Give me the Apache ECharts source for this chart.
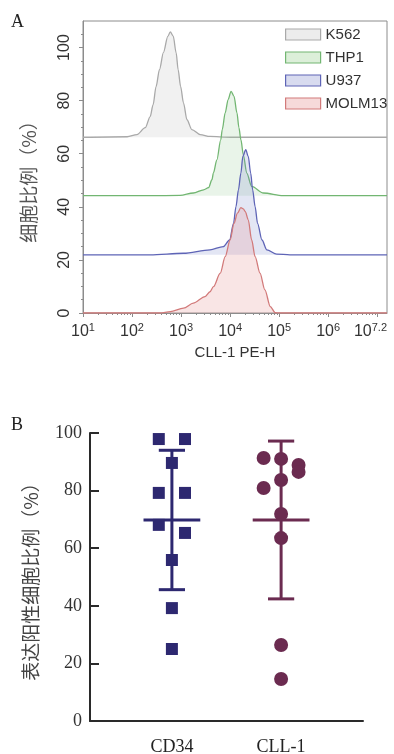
<!DOCTYPE html>
<html>
<head>
<meta charset="utf-8">
<script src="https://cdn.jsdelivr.net/npm/echarts@6/dist/echarts.min.js"></script>
<style>
  html, body { margin: 0; padding: 0; background: #fff; }
  #chart { width: 394px; height: 754px; }
</style>
</head>
<body>
<div id="chart"></div>
<script>
// ---- panel A: CLL-1 histograms, x = log10(PE-H), y = % of cells (offset per line) ----
const cellLines = ['K562', 'THP1', 'U937', 'MOLM13'];
const baselines = [66.2, 44.2, 21.9, 0];
const k562 = [[1.0, 66.2], [1.9, 66.4], [2.1, 67.2], [2.27, 69.8], [2.37, 74.0], [2.43, 78.5], [2.49, 85.3],
  [2.56, 91.7], [2.64, 98.1], [2.73, 104.2], [2.78, 105.9], [2.84, 104.3], [2.9, 98.0], [2.94, 91.7],
  [2.99, 85.4], [3.05, 79.1], [3.12, 72.8], [3.22, 69.1], [3.39, 67.2], [3.59, 66.5], [4.0, 66.2], [7.2, 66.2]];
const thp1 = [[1.0, 44.2], [2.37, 44.2], [2.98, 44.3], [3.25, 45.2], [3.46, 46.4], [3.56, 47.2], [3.63, 50.2],
  [3.66, 52.8], [3.73, 57.7], [3.81, 65.3], [3.84, 69.1], [3.9, 75.4], [3.96, 80.4], [4.02, 83.5], [4.08, 81.6],
  [4.14, 75.4], [4.18, 69.8], [4.22, 65.3], [4.27, 59.6], [4.34, 52.7], [4.44, 47.7], [4.68, 45.2], [5.08, 44.2], [7.2, 44.2]];
const u937 = [[1.0, 21.9], [2.37, 21.9], [3.05, 22.5], [3.59, 23.8], [3.86, 25.0], [3.99, 27.5], [4.07, 33.8],
  [4.12, 40.1], [4.17, 46.4], [4.22, 52.7], [4.26, 59.0], [4.32, 61.5], [4.37, 59.0], [4.42, 52.7], [4.46, 46.4],
  [4.51, 40.1], [4.56, 33.8], [4.65, 27.5], [4.75, 23.8], [4.95, 22.2], [5.22, 21.9], [7.2, 21.9]];
const molm13 = [[1.0, 0], [2.57, 0], [2.78, 0.5], [3.05, 1.8], [3.25, 3.7], [3.49, 6.2], [3.59, 8.0], [3.66, 9.9],
  [3.8, 15.0], [3.9, 21.2], [4.0, 27.5], [4.08, 33.8], [4.15, 37.6], [4.22, 39.7], [4.27, 39.2], [4.31, 38.2],
  [4.37, 35.1], [4.44, 27.5], [4.51, 21.2], [4.61, 15.0], [4.71, 8.7], [4.82, 2.4], [4.92, 0.1], [5.02, 0], [7.2, 0]];
const histData = [k562, thp1, u937, molm13];
const logLabels = [1, 2, 3, 4, 5, 6, 7.2];
const pctTicksA = [0, 20, 40, 60, 80, 100];

// ---- panel B: % positive cells per sample ----
const groups = ['CD34', 'CLL-1'];
const cd34Pct = [97.9, 97.9, 89.6, 79.2, 79.2, 68.1, 65.3, 55.9, 39.2, 25.0];
const cd34Jitter = [-0.12, 0.12, 0, -0.12, 0.12, -0.12, 0.12, 0, 0, 0];
const cll1Pct = [91.3, 91.0, 88.9, 86.5, 83.7, 80.9, 71.9, 63.5, 26.4, 14.6];
const cll1Jitter = [-0.16, 0, 0.16, 0.16, 0, -0.16, 0, 0, 0, 0];
const groupMean = [69.8, 69.8];
const groupSD = [24.2, 27.4];

const lineColors = ['#a9a9a9', '#72b672', '#5e64b6', '#d27a7a'];
const fillColors = ['rgba(205,205,205,0.4)', 'rgba(150,205,150,0.3)', 'rgba(125,135,205,0.3)', 'rgba(232,150,150,0.35)'];
const legendFill = ['#ececec', '#dcefd9', '#d8dbef', '#f6dada'];
const groupColors = ['#2d2870', '#6b2b50'];

const sans = "'Liberation Sans', Arial, sans-serif";
const serif = "'Liberation Serif', 'Times New Roman', serif";
const cjk = "'Noto Sans CJK SC', sans-serif";

// log minor ticks 2..9 per decade
const minorLog = [];
for (let d = 1; d < 7; d++) {
  for (let k = 2; k <= 9; k++) minorLog.push(d + Math.log10(k));
}
const minorPct = [];
for (let v = 5; v < 110; v += 5) if (v % 20 !== 0) minorPct.push(v);

const chart = echarts.init(document.getElementById('chart'));

const histSeries = cellLines.map((name, i) => ({
  name: name,
  type: 'line',
  xAxisIndex: 0,
  yAxisIndex: 0,
  data: histData[i],
  showSymbol: false,
  smooth: 0.3,
  smoothMonotone: 'x',
  lineStyle: { color: lineColors[i], width: 1.3 },
  itemStyle: { color: lineColors[i] },
  areaStyle: { color: fillColors[i], origin: baselines[i] },
  z: 2 + i
}));

const option = {
  animation: false,
  grid: [
    { left: 83, right: 7, top: 21, bottom: 441, show: true, borderColor: '#8c8c8c', borderWidth: 1, outerBoundsMode: 'none' },
    { left: 90, right: 31, top: 433, bottom: 33, outerBoundsMode: 'none' }
  ],
  legend: {
    orient: 'vertical',
    left: 280,
    top: 22,
    itemWidth: 35,
    itemHeight: 11,
    itemGap: 8,
    icon: 'rect',
    textStyle: { fontFamily: sans, fontSize: 15, color: '#333' },
    data: cellLines.map((n, i) => ({
      name: n,
      itemStyle: { color: legendFill[i], borderColor: lineColors[i], borderWidth: 1.2 }
    }))
  },
  graphic: [
    { type: 'text', left: 11, top: 13, style: { text: 'A', font: '18px ' + serif, fill: '#222' } },
    { type: 'text', left: 11, top: 416, style: { text: 'B', font: '18px ' + serif, fill: '#222' } }
  ],
  xAxis: [
    {
      type: 'value', gridIndex: 0, min: 1, max: 7.2,
      name: 'CLL-1 PE-H', nameLocation: 'middle', nameGap: 32,
      nameTextStyle: { fontFamily: sans, fontSize: 15, color: '#333' },
      axisLine: { onZero: false, lineStyle: { color: '#8c8c8c', width: 1 } },
      axisTick: { show: true, length: 4, customValues: [1, 2, 3, 4, 5, 6, 7], lineStyle: { color: '#8c8c8c' } },
      axisLabel: {
        customValues: logLabels,
        margin: 9,
        alignMaxLabel: 'right',
        formatter: v => '{b|10}{s|' + v + '}',
        rich: {
          b: { fontFamily: sans, fontSize: 16, color: '#333' },
          s: { fontFamily: sans, fontSize: 11, color: '#333', padding: [0, 0, 9, 0] }
        }
      },
      splitLine: { show: false }
    },
    {
      type: 'value', gridIndex: 0, min: 1, max: 7.2, position: 'bottom',
      axisLine: { show: false, onZero: false },
      axisTick: { show: true, length: 2, customValues: minorLog, lineStyle: { color: '#8c8c8c' } },
      axisLabel: { show: false },
      splitLine: { show: false }
    },
    {
      type: 'value', gridIndex: 1, min: -0.75, max: 1.75,
      axisLine: { onZero: false, lineStyle: { color: '#2a2a2a', width: 2 } },
      axisTick: { show: false },
      axisLabel: {
        customValues: [0, 1],
        formatter: v => groups[Math.round(v)],
        fontFamily: serif, fontSize: 18, color: '#222', margin: 17
      },
      splitLine: { show: false }
    }
  ],
  yAxis: [
    {
      type: 'value', gridIndex: 0, min: 0, max: 110,
      name: '细胞比例（%）', nameLocation: 'middle', nameGap: 45,
      nameTextStyle: { fontFamily: cjk, fontSize: 19, color: '#555', padding: [0, 20, 0, 0] },
      axisLine: { onZero: false, lineStyle: { color: '#8c8c8c', width: 1 } },
      axisTick: { show: true, length: 4, customValues: pctTicksA, lineStyle: { color: '#8c8c8c' } },
      axisLabel: {
        customValues: pctTicksA, rotate: 90, margin: 10,
        fontFamily: sans, fontSize: 16, color: '#333'
      },
      splitLine: { show: false }
    },
    {
      type: 'value', gridIndex: 0, min: 0, max: 110, position: 'left',
      axisLine: { show: false, onZero: false },
      axisTick: { show: true, length: 2, customValues: minorPct, lineStyle: { color: '#8c8c8c' } },
      axisLabel: { show: false },
      splitLine: { show: false }
    },
    {
      type: 'value', gridIndex: 1, min: 0, max: 100, interval: 20,
      name: '表达阳性细胞比例（%）', nameLocation: 'middle', nameGap: 50,
      nameTextStyle: { fontFamily: cjk, fontSize: 19, color: '#444' },
      axisLine: { onZero: false, lineStyle: { color: '#2a2a2a', width: 2 } },
      axisTick: { show: true, inside: true, length: 9, lineStyle: { color: '#2a2a2a', width: 2 } },
      axisLabel: { fontFamily: serif, fontSize: 18, color: '#333', margin: 8 },
      splitLine: { show: false }
    }
  ],
  series: histSeries.concat([
    {
      type: 'custom',
      xAxisIndex: 2,
      yAxisIndex: 2,
      data: groups.map((g, i) => [i, groupMean[i], groupSD[i]]),
      renderItem: function (params, api) {
        const i = api.value(0), m = api.value(1), s = api.value(2);
        const c = groupColors[i];
        const seg = (x1, y1, x2, y2) => {
          const a = api.coord([x1, y1]);
          const b = api.coord([x2, y2]);
          return { type: 'line', shape: { x1: a[0], y1: a[1], x2: b[0], y2: b[1] }, style: { stroke: c, lineWidth: 3 } };
        };
        return {
          type: 'group',
          children: [
            seg(i, m - s, i, m + s),
            seg(i - 0.12, m + s, i + 0.12, m + s),
            seg(i - 0.12, m - s, i + 0.12, m - s),
            seg(i - 0.26, m, i + 0.26, m)
          ]
        };
      },
      z: 2
    },
    {
      type: 'scatter',
      xAxisIndex: 2,
      yAxisIndex: 2,
      symbol: 'rect',
      symbolSize: 12,
      itemStyle: { color: groupColors[0], opacity: 1 },
      data: cd34Pct.map((v, i) => [0 + cd34Jitter[i], v]),
      z: 3
    },
    {
      type: 'scatter',
      xAxisIndex: 2,
      yAxisIndex: 2,
      symbol: 'circle',
      symbolSize: 14,
      itemStyle: { color: groupColors[1], opacity: 1 },
      data: cll1Pct.map((v, i) => [1 + cll1Jitter[i], v]),
      z: 3
    }
  ])
};

chart.setOption(option);
window.addEventListener('resize', () => chart.resize());
</script>
</body>
</html>
